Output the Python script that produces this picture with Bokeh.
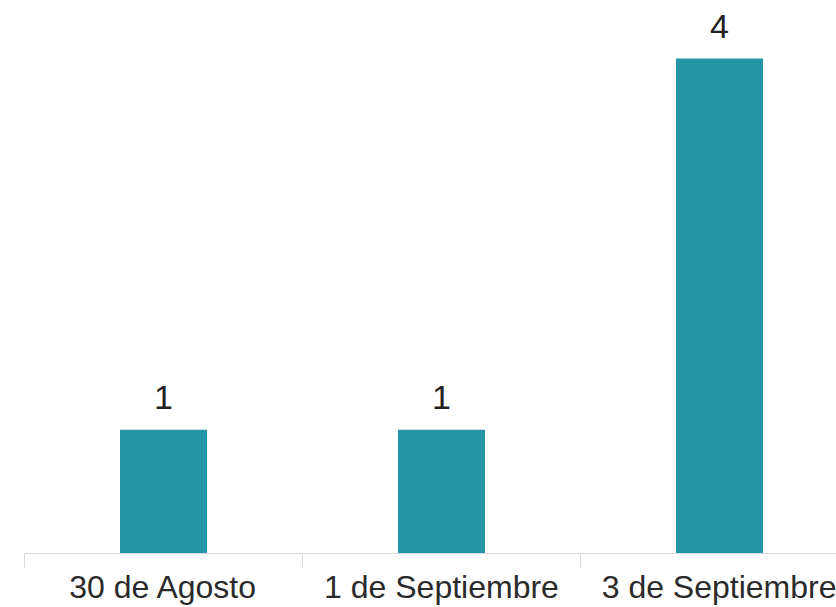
from bokeh.plotting import figure
from bokeh.models import ColumnDataSource, Range1d, FixedTicker, LinearAxis
from bokeh.core.properties import value
from bokeh.embed import file_html
from bokeh.resources import INLINE

categories = ["30 de Agosto", "1 de Septiembre", "3 de Septiembre"]
counts = [1, 1, 4]

xs = [i + 0.5 for i in range(len(categories))]
src = ColumnDataSource(dict(x=xs, top=counts, label=[str(c) for c in counts]))

p = figure(width=836, height=607, output_backend="svg", toolbar_location=None,
           x_range=Range1d(0, 812 / 278), y_range=Range1d(0, 553 / 123.75),
           min_border_left=24, min_border_right=0, min_border_top=0, min_border_bottom=0,
           x_axis_location=None, y_axis_location=None)
p.outline_line_color = None
p.xgrid.visible = False
p.ygrid.visible = False

p.vbar(x="x", top="top", width=0.313, bottom=0, source=src,
       fill_color="#2595A8", line_color=None)
p.text(x="x", y="top", text="label", source=src, text_align="center",
       text_baseline="alphabetic", y_offset=-32,
       text_font=value("Liberation Sans"), text_font_size="34px", text_color="#222222")

ax = LinearAxis(ticker=FixedTicker(ticks=xs, minor_ticks=[0, 1, 2, 3]))
ax.major_label_overrides = {x: c for x, c in zip(xs, categories)}
ax.axis_line_color = "#d9d9d9"
ax.axis_line_width = 1
ax.major_tick_line_color = None
ax.major_tick_out = 0
ax.major_tick_in = 0
ax.minor_tick_line_color = "#d9d9d9"
ax.minor_tick_out = 14
ax.minor_tick_in = 0
ax.major_label_standoff = 1
ax.major_label_text_font = "Liberation Sans"
ax.major_label_text_font_size = "32px"
ax.major_label_text_color = "#2a2a2a"
p.add_layout(ax, "below")

open("out.html", "w").write(file_html(p, INLINE))
